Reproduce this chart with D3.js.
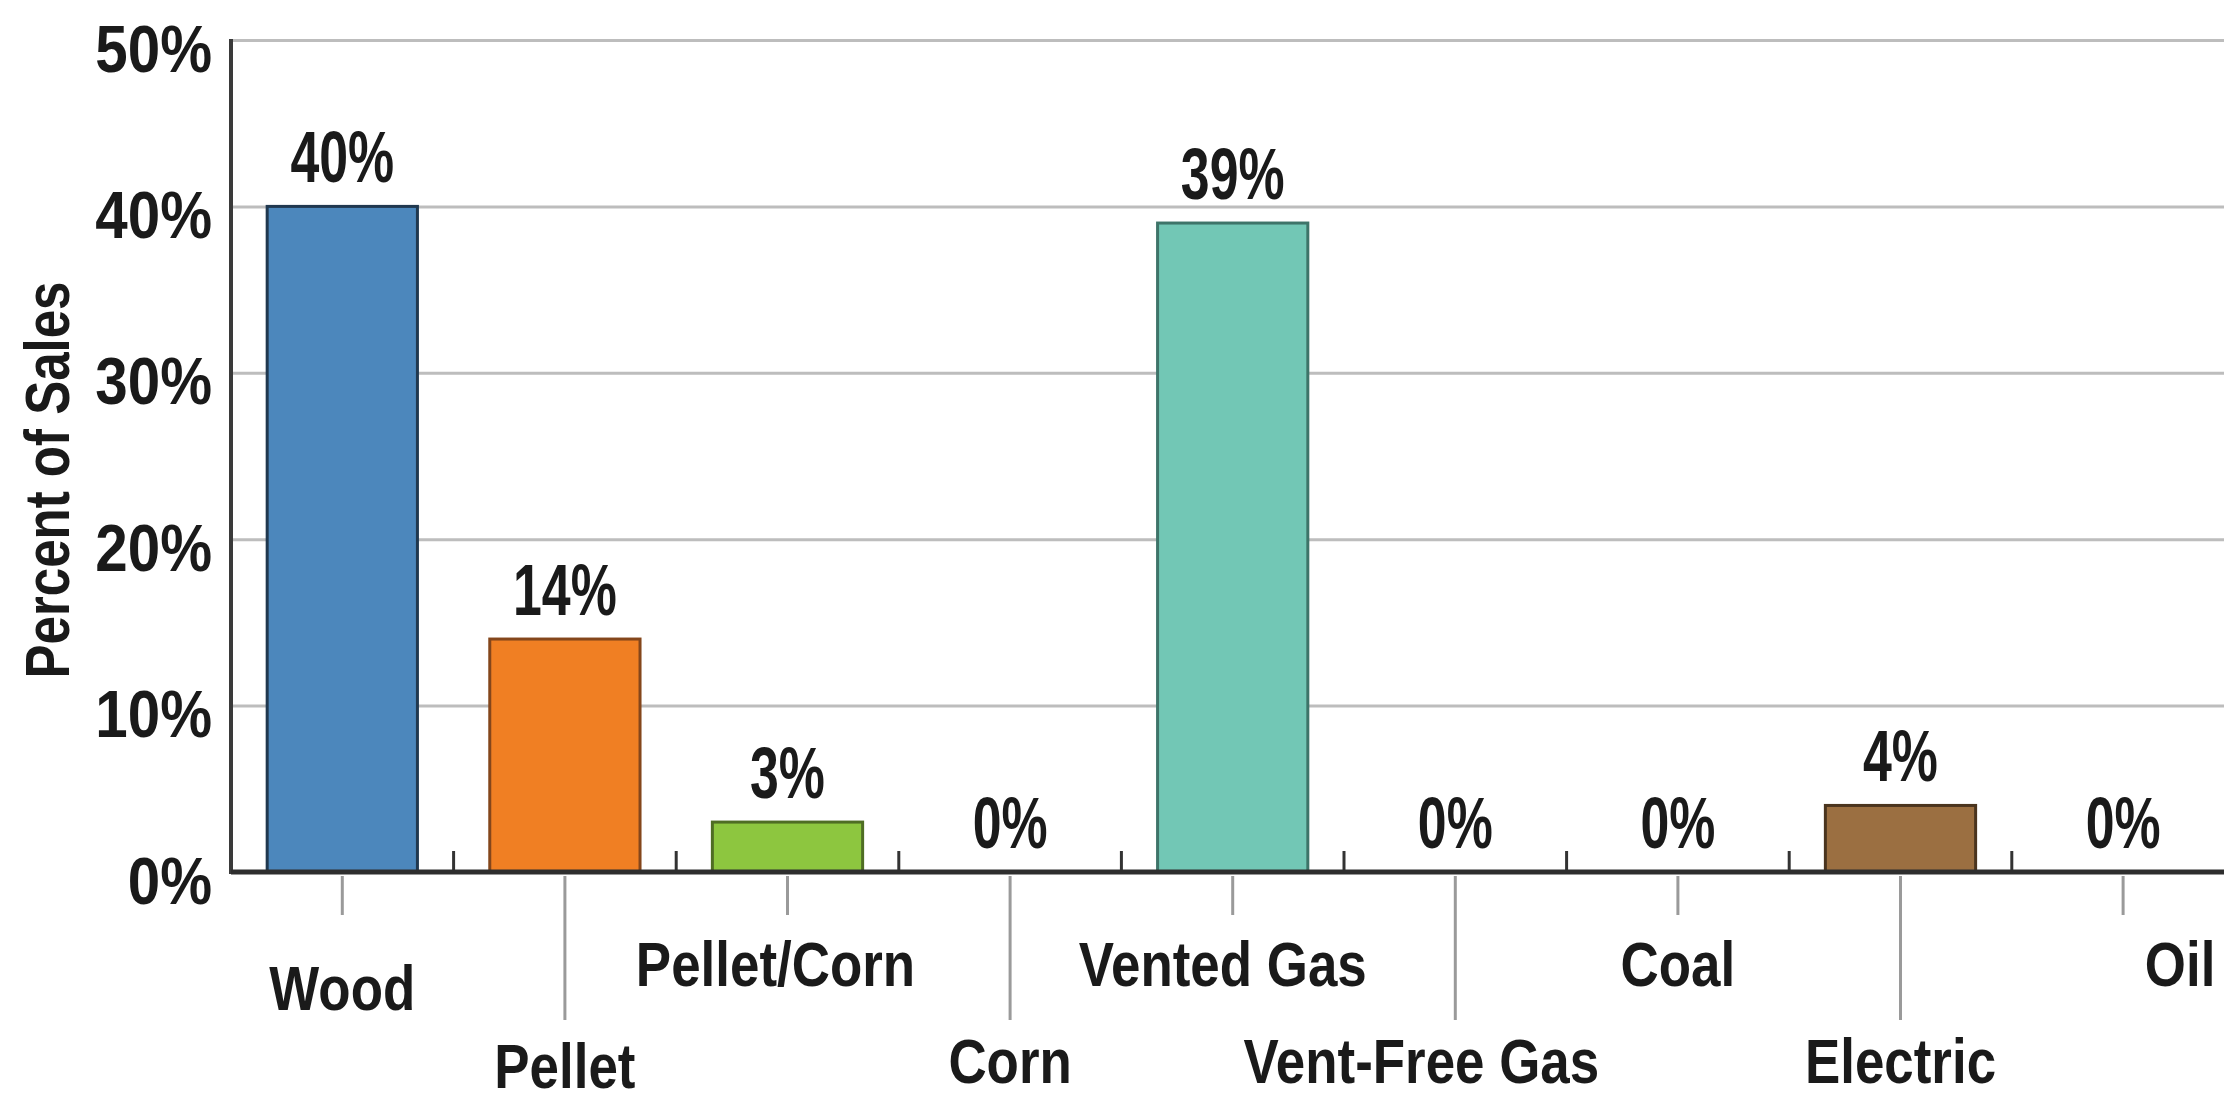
<!DOCTYPE html>
<html>
<head>
<meta charset="utf-8">
<script src="https://cdn.jsdelivr.net/npm/d3@7"></script>
<style>
  body { margin: 0; background: #fff; }
  svg { display: block; overflow: hidden; }
  text { font-family: "Liberation Sans", Arial, sans-serif; font-weight: bold; fill: #1a1a1a; }
</style>
</head>
<body>
<svg id="chart"></svg>
<script>
// chart values
const categories = ["Wood", "Pellet", "Pellet/Corn", "Corn", "Vented Gas", "Vent-Free Gas", "Coal", "Electric", "Oil"];
const salesPct = [40, 14, 3, 0, 39, 0, 0, 4, 0];
const yTicks = [0, 10, 20, 30, 40, 50];
const barColors = ["#4c87bc", "#f07f23", "#8dc63f", "#999999", "#72c7b5", "#999999", "#999999", "#9b6f41", "#999999"];
const barStrokes = ["#20384f", "#84461b", "#4f6d24", "#555555", "#3e7469", "#555555", "#555555", "#4a341e", "#555555"];

const rows = categories.map((c, i) => ({ cat: c, value: salesPct[i], fill: barColors[i], stroke: barStrokes[i], i: i }));

const W = 2224, H = 1103;
const plotLeft = 231, plotTop = 40, plotBottom = 872;
const narrow = 0.81;   // fake a condensed face

// label placement tweaks (pixels)
const labelDrop = { Wood: 24, Pellet: 5 };
const labelShift = { "Pellet/Corn": -12, "Vented Gas": -10, "Vent-Free Gas": -34, Oil: 57 };

const svg = d3.select("#chart").attr("width", W).attr("height", H);

const x = d3.scaleBand()
    .domain(categories)
    .range([plotLeft, plotLeft + 9 * 222.6])
    .paddingInner(0.325)
    .paddingOuter(0.1625);

const y = d3.scaleLinear()
    .domain([0, 50])
    .range([plotBottom, plotTop]);

// gridlines
svg.append("g")
    .attr("transform", `translate(${plotLeft},0)`)
    .call(d3.axisLeft(y).tickValues(yTicks.slice(1)).tickSize(-(W - plotLeft + 20)).tickFormat(""))
    .call(g => g.select(".domain").remove())
    .call(g => g.selectAll("line").attr("stroke", "#bdbdbd").attr("stroke-width", 3));

// y tick labels
svg.append("g")
    .attr("transform", `translate(${plotLeft},0)`)
    .call(d3.axisLeft(y).tickValues(yTicks).tickSize(0).tickFormat(d => d + "%"))
    .call(g => g.select(".domain").remove())
    .call(g => g.attr("font-family", null).attr("font-size", null))
    .call(g => g.selectAll("text")
        .attr("x", 0)
        .attr("dy", null)
        .attr("font-size", 67)
        .attr("transform", "translate(-19,31) scale(0.87,1)"));

// y axis line
svg.append("line")
    .attr("x1", plotLeft).attr("x2", plotLeft)
    .attr("y1", y(50) - 1).attr("y2", plotBottom + 2)
    .attr("stroke", "#3a3a3a").attr("stroke-width", 4);

// y title
svg.append("text")
    .attr("transform", `translate(69,480) rotate(-90) scale(${narrow},1)`)
    .attr("text-anchor", "middle")
    .attr("font-size", 63)
    .text("Percent of Sales");

// bars
svg.append("g").selectAll("rect")
    .data(rows.filter(d => d.value > 0))
    .join("rect")
    .attr("x", d => x(d.cat))
    .attr("y", d => y(d.value))
    .attr("width", x.bandwidth())
    .attr("height", d => plotBottom - y(d.value))
    .attr("fill", d => d.fill)
    .attr("stroke", d => d.stroke)
    .attr("stroke-width", 3);

// baseline axis with between-band ticks pointing up
const bounds = categories.slice(1).map(c => x(c) - x.step() * x.paddingInner() / 2);
svg.append("g").selectAll("line")
    .data(bounds)
    .join("line")
    .attr("x1", d => d).attr("x2", d => d)
    .attr("y1", plotBottom).attr("y2", plotBottom - 21)
    .attr("stroke", "#333").attr("stroke-width", 3);

svg.append("line")
    .attr("x1", plotLeft).attr("x2", W)
    .attr("y1", plotBottom).attr("y2", plotBottom)
    .attr("stroke", "#2e2e2e").attr("stroke-width", 5);

// value labels
svg.append("g").selectAll("text")
    .data(rows)
    .join("text")
    .attr("transform", d => `translate(${x(d.cat) + x.bandwidth() / 2},${y(d.value) - 24}) scale(0.72,1)`)
    .attr("text-anchor", "middle")
    .attr("font-size", 72)
    .text(d => d.value + "%");

// leader lines + category labels
const cat = svg.append("g").selectAll("g")
    .data(rows)
    .join("g")
    .attr("transform", d => `translate(${x(d.cat) + x.bandwidth() / 2},0)`);

cat.append("line")
    .attr("x1", 0).attr("x2", 0)
    .attr("y1", plotBottom + 4)
    .attr("y2", d => d.i % 2 ? 1020 : 915)
    .attr("stroke", "#9a9a9a").attr("stroke-width", 3);

cat.append("text")
    .attr("transform", d => `translate(${labelShift[d.cat] || 0},${(d.i % 2 ? 1083 : 986) + (labelDrop[d.cat] || 0)}) scale(0.84,1)`)
    .attr("text-anchor", "middle")
    .attr("font-size", 63)
    .text(d => d.cat);
</script>
</body>
</html>
